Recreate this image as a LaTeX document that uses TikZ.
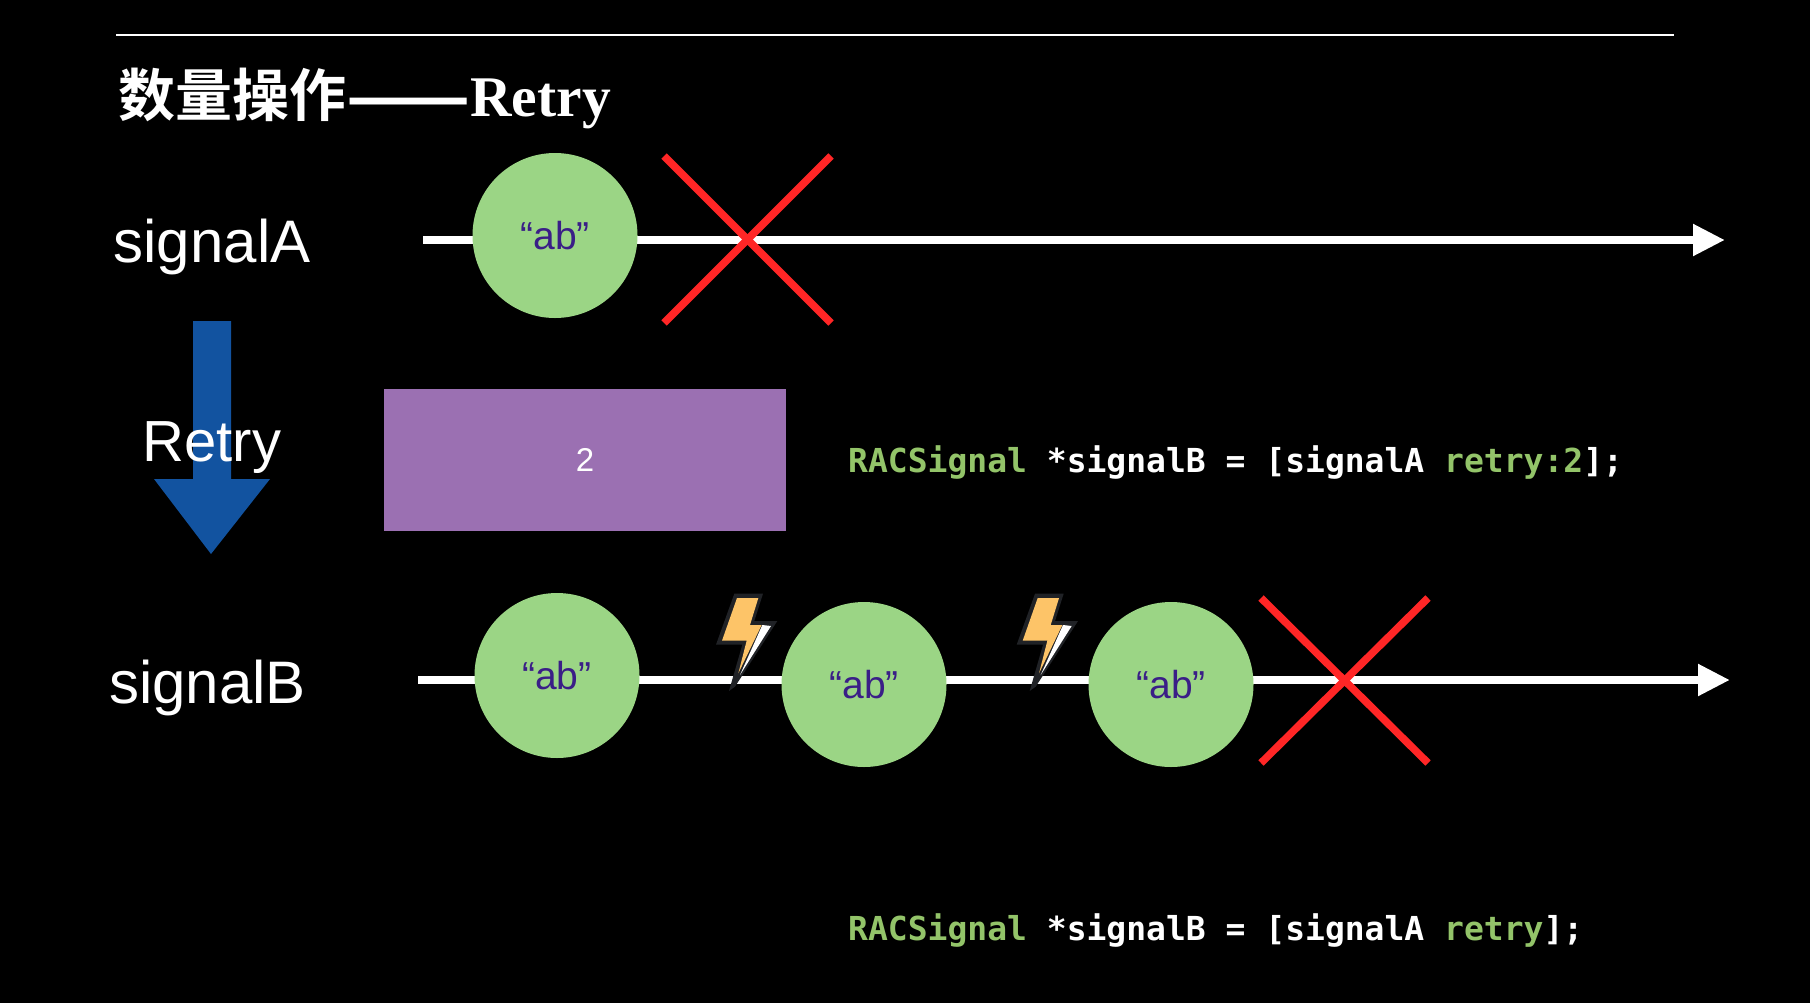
\documentclass[tikz,border=0pt]{standalone}
\usepackage{fontspec}
\usetikzlibrary{arrows.meta}
\setmainfont{Liberation Sans}
\newfontfamily\cjkfont{Noto Sans CJK SC}[BoldFont={* Bold}]
\newfontfamily\serfont{Liberation Serif}
\newfontfamily\codefont{DejaVu Sans Mono}
\definecolor{ballgreen}{RGB}{155,213,133}
\definecolor{codegreen}{RGB}{147,196,105}
\definecolor{inkviolet}{RGB}{58,30,135}
\definecolor{boxpurple}{RGB}{155,112,178}
\definecolor{arrowblue}{RGB}{18,83,160}
\definecolor{crossred}{RGB}{255,38,38}
\definecolor{boltorange}{RGB}{253,196,104}
\definecolor{boltdark}{RGB}{32,34,38}
\newcommand{\pxfont}[1]{\fontsize{#1pt}{#1pt}\selectfont}
\newcommand{\lightningbolt}[1]{%
  \begin{scope}[shift={(#1)}, x=0.3333pt, y=-0.3333pt]
    \fill[boltdark] (133,41) -- (219,41) -- (193,123) -- (262,123) -- (135,320) -- (117,333) -- (157,194) -- (78,194) -- cycle;
    \fill[boltorange] (141,54) -- (205,54) -- (180,135) -- (215,135) -- (145,280) -- (170,182) -- (96,182) -- cycle;
    \fill[white] (217,135) -- (243,138) -- (150,285) -- cycle;
  \end{scope}}
\tikzset{
  timeline/.style={draw=white, line width=8pt, -{Triangle[length=32pt,width=30pt]}},
  ball/.style={circle, fill=ballgreen, minimum size=165pt, inner sep=0pt, text=inkviolet, font=\pxfont{39}},
  crossline/.style={draw=crossred, line width=7.5pt},
  biglabel/.style={text=white, anchor=base, inner sep=0pt, font=\pxfont{60}},
  codeline/.style={anchor=base west, inner sep=0pt, text=white, font=\codefont\bfseries\pxfont{33}},
  opbox/.style={fill=boxpurple, inner sep=0pt, minimum width=402pt, minimum height=142pt, text=white, font=\pxfont{33}},
}
\begin{document}
\begin{tikzpicture}[x=1pt,y=-1pt]
\useasboundingbox (0,0) rectangle (1810,1002);
\fill[black] (-3,-3) rectangle (1813,1005);
% top rule
\coordinate (ruleL) at (116,35);
\coordinate (ruleR) at (1674,35);
\draw[white,line width=2pt] (ruleL) -- (ruleR);
% title
\node[anchor=base west, inner sep=0pt, text=white] (title) at (118,116)
  {{\cjkfont\bfseries\pxfont{57}数量操作\raisebox{-6pt}{\pxfont{73}——}}{\serfont\bfseries\pxfont{57.5}Retry}};
% signal A
\node[biglabel] (labelA) at (212,262) {signalA};
\coordinate (aS) at (423,240);
\coordinate (aE) at (1725,240);
\draw[timeline] (aS) -- (aE);
\node[ball] (ballA) at (555,235.5) {“ab”};
\coordinate (xA1) at (664,156);
\coordinate (xA2) at (831,323);
\coordinate (xA3) at (664,323);
\coordinate (xA4) at (831,156);
\draw[crossline] (xA1) -- (xA2);
\draw[crossline] (xA3) -- (xA4);
% blue down arrow
\fill[arrowblue] (193,321) -- (231,321) -- (231,479) -- (270,479) -- (211,554) -- (154,479) -- (193,479) -- cycle;
\node[biglabel, font=\pxfont{58}] (labelRetry) at (212,461) {Retry};
% purple box
\node[opbox] (box) at (585,460) {2};
% code
\node[codeline] (code1) at (848,472) {\textcolor{codegreen}{RACSignal} *signalB = [signalA \textcolor{codegreen}{retry:2}];};
\node[codeline] (code2) at (848,940) {\textcolor{codegreen}{RACSignal} *signalB = [signalA \textcolor{codegreen}{retry}];};
% signal B
\node[biglabel] (labelB) at (207.5,703) {signalB};
\coordinate (bS) at (418,680);
\coordinate (bE) at (1730,680);
\draw[timeline] (bS) -- (bE);
\lightningbolt{690,580}
\lightningbolt{990.7,580}
\node[ball] (ballB1) at (557,675.5) {“ab”};
\node[ball] (ballB2) at (864,684.5) {“ab”};
\node[ball] (ballB3) at (1171,684.5) {“ab”};
\coordinate (xB1) at (1261,598);
\coordinate (xB2) at (1428,763);
\coordinate (xB3) at (1261,763);
\coordinate (xB4) at (1428,598);
\draw[crossline] (xB1) -- (xB2);
\draw[crossline] (xB3) -- (xB4);
\end{tikzpicture}
\end{document}
